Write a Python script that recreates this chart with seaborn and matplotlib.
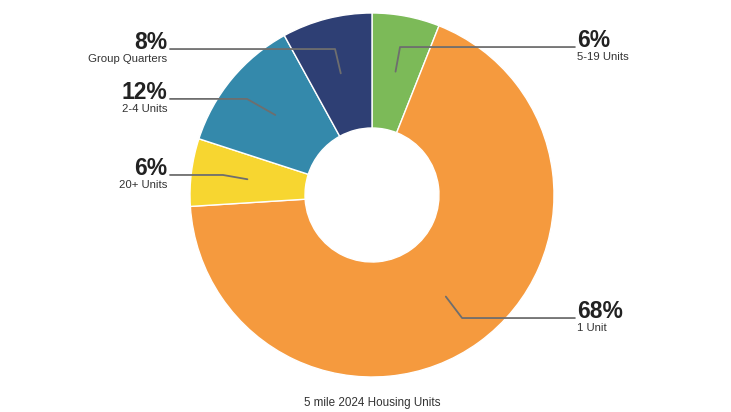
import numpy as np
import matplotlib
matplotlib.use("Agg")
import matplotlib.pyplot as plt
import seaborn as sns

# Housing unit mix within 5 miles (share of total, %)
categories = ["5-19 Units", "1 Unit", "20+ Units", "2-4 Units", "Group Quarters"]
values = [6, 68, 6, 12, 8]
colors = ["#7cba58", "#f59a3e", "#f7d630", "#3489ab", "#2e3f74"]
title = "5 mile 2024 Housing Units"

# Callout layout (in pie-radius units): elbow of each leader line, and where it ends
elbows = [(0.154, 0.813), (0.495, -0.676), (-0.819, 0.110), (-0.687, 0.528), (-0.203, 0.802)]
line_end_x = [1.115, 1.115, -1.110, -1.110, -1.110]

sns.set_theme(style="white")
plt.rcParams["font.family"] = ["Liberation Sans", "DejaVu Sans"]

W, H = 731, 412
cx, cy, R = 372, 195, 182
hole = 67

fig = plt.figure(figsize=(W / 100, H / 100), dpi=100)
fig.patch.set_facecolor("white")
ax = fig.add_axes([(cx - R) / W, (H - cy - R) / H, 2 * R / W, 2 * R / H])

wedges, _ = ax.pie(
    values,
    colors=colors,
    startangle=90,
    counterclock=False,
    radius=1,
    wedgeprops=dict(width=1 - hole / R, edgecolor="white", linewidth=1.0),
)
ax.set_xlim(-1, 1)
ax.set_ylim(-1, 1)
ax.set_aspect("equal")
ax.axis("off")

line_color = "#6e6e6e"
anchor_r = 0.69
for w, cat, val, (ex, ey), lx in zip(wedges, categories, values, elbows, line_end_x):
    mid = np.deg2rad((w.theta1 + w.theta2) / 2)
    axx, axy = anchor_r * np.cos(mid), anchor_r * np.sin(mid)
    ax.plot([axx, ex, lx], [axy, ey, ey], color=line_color, lw=1.3,
            solid_capstyle="round", clip_on=False, zorder=5)
    if lx < 0:
        tx, ha = lx - 0.016, "right"
    else:
        tx, ha = lx + 0.012, "left"
    ax.text(tx, ey + 0.002, f"{val}%", ha=ha, va="baseline", fontsize=16.5,
            fontweight="bold", color="#222222", clip_on=False)
    ax.text(tx, ey - 0.026, cat, ha=ha, va="top", fontsize=8.2,
            color="#333333", clip_on=False)

fig.text(cx / W, 1 - 403 / H, title, ha="center", va="center", fontsize=8.4, color="#333333")

fig.savefig("out.png", dpi=100, facecolor="white")
